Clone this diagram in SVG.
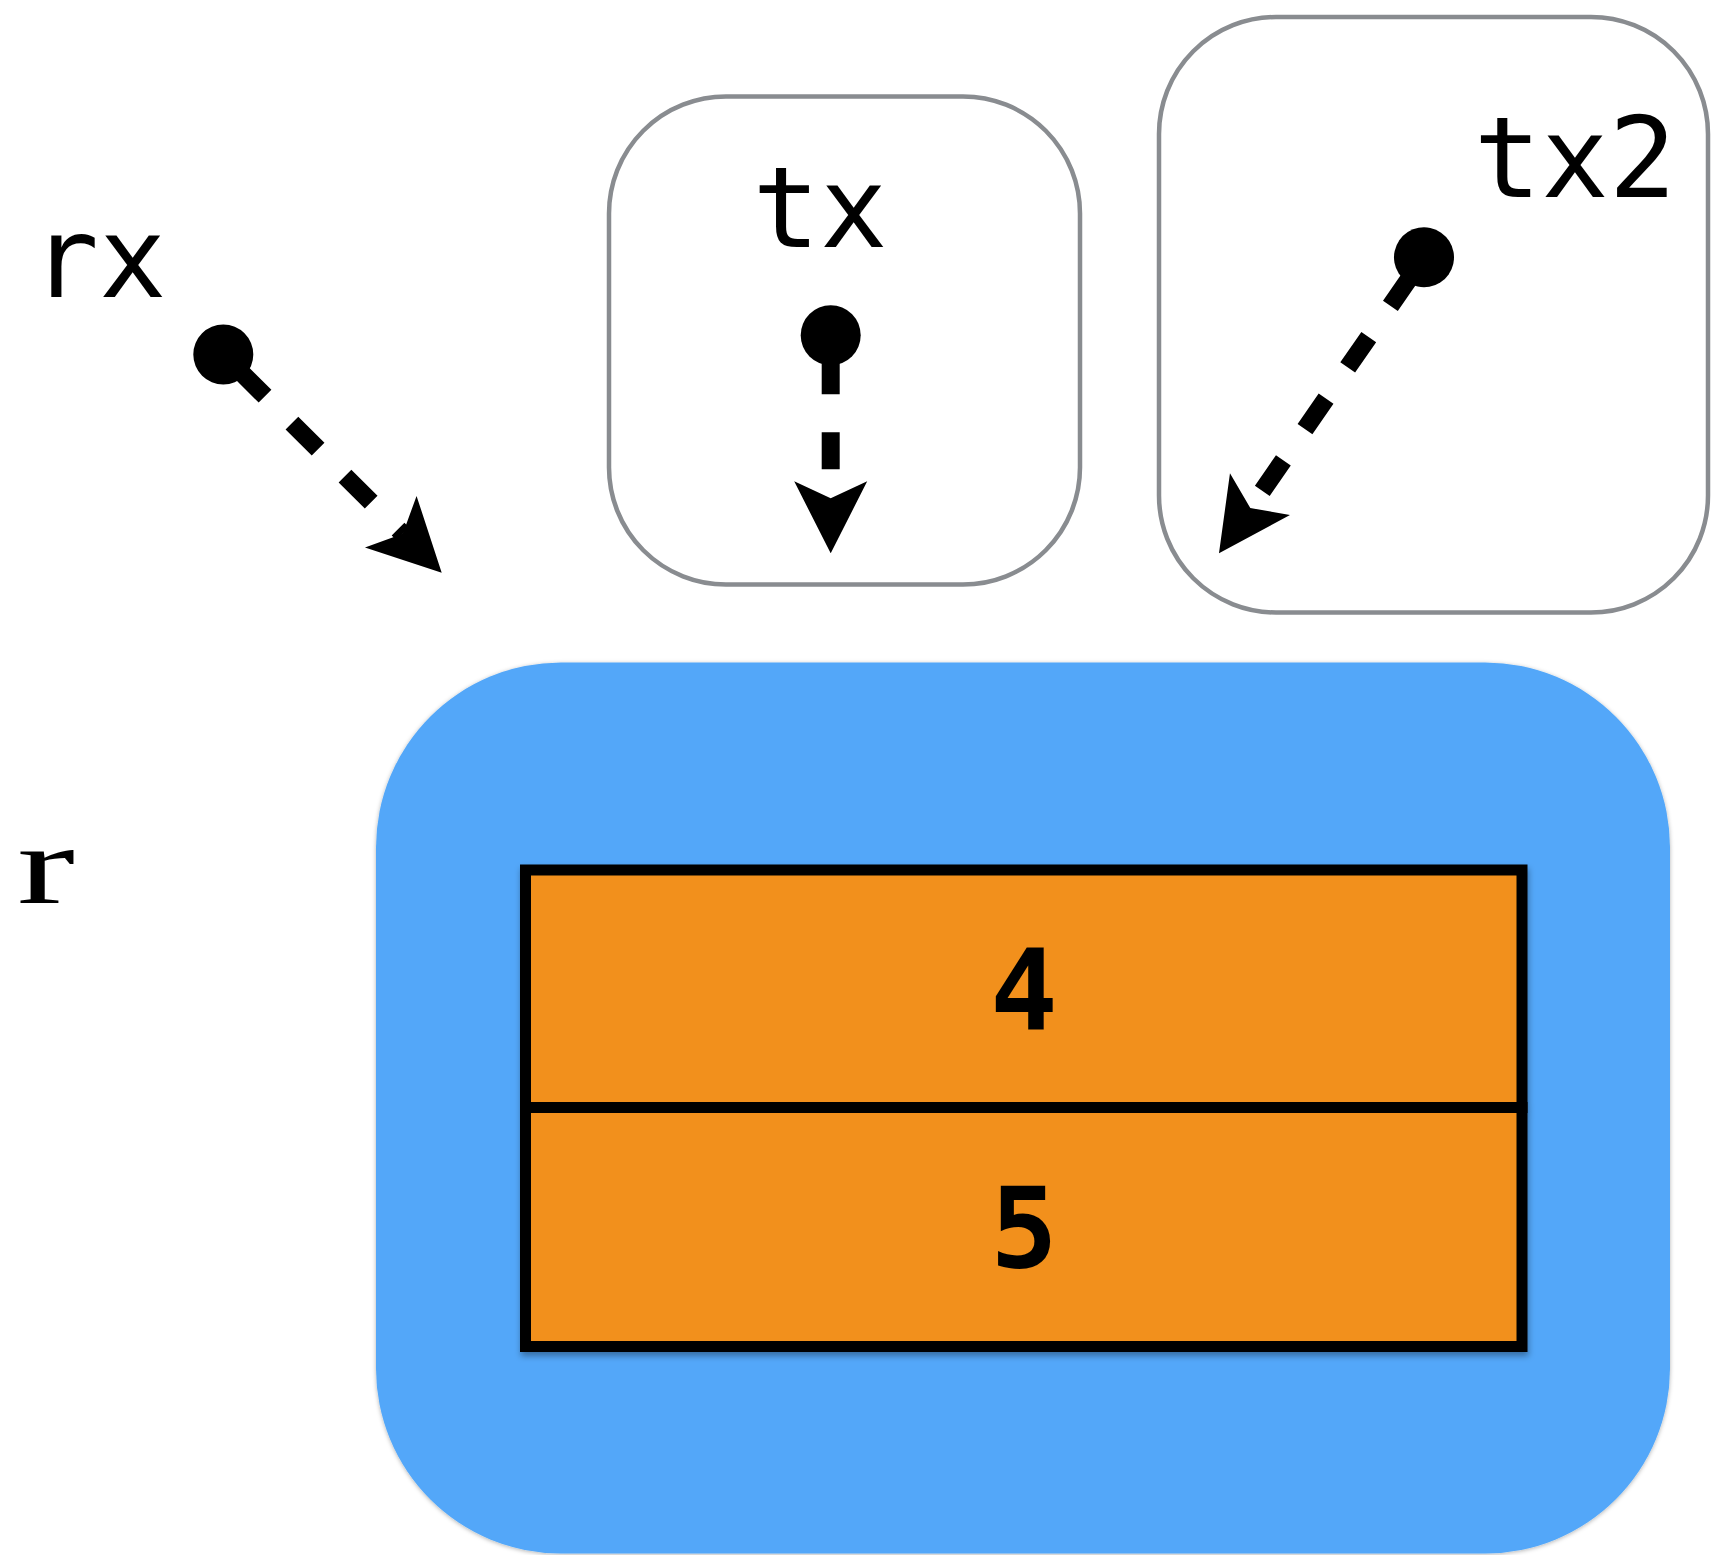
<svg xmlns="http://www.w3.org/2000/svg" width="1736" height="1555" viewBox="0 0 1736 1555">
  <style>
    .lbl { font-family: "DejaVu Sans Mono", monospace; font-size: 112px; fill: #000; }
    .rlbl { font-family: "Liberation Serif", serif; font-size: 112px; fill: #000; }
    .val { font-family: "DejaVu Sans Mono", monospace; font-weight: bold; font-size: 112px; fill: #000; text-anchor: middle; }
    .frame { fill: #fff; stroke: #898c90; stroke-width: 4.5; }
    .cell { fill: #f2901a; stroke: #000; stroke-width: 11; }
    .ptr { fill: none; stroke: #000; stroke-width: 18; stroke-dasharray: 37 38; stroke-dashoffset: 53; marker-start: url(#dot); marker-end: url(#arrow); }
  </style>
  <defs>
    <marker id="dot" markerUnits="userSpaceOnUse" viewBox="-32 -32 64 64" refX="0" refY="0" markerWidth="64" markerHeight="64" orient="auto">
      <circle cx="0" cy="0" r="30" fill="#000"/>
    </marker>
    <marker id="arrow" markerUnits="userSpaceOnUse" viewBox="-25 -40 80 80" refX="0" refY="0" markerWidth="80" markerHeight="80" orient="auto">
      <path d="M55,0 L-17,-36.5 L0,0 L-17,36.5 Z" fill="#000"/>
    </marker>
    <filter id="shadowBlue" x="-5%" y="-5%" width="110%" height="110%">
      <feDropShadow dx="0" dy="1" stdDeviation="2" flood-color="#000" flood-opacity="0.3"/>
    </filter>
    <filter id="shadowCell" x="-5%" y="-5%" width="110%" height="115%">
      <feDropShadow dx="1" dy="4" stdDeviation="3" flood-color="#000" flood-opacity="0.35"/>
    </filter>
  </defs>

  <g id="rx">
    <text class="lbl" x="99" y="297" text-anchor="middle">rx</text>
  </g>

  <g id="tx">
    <rect class="frame" x="609" y="96.5" width="471" height="488" rx="117" ry="117"/>
    <text class="lbl" x="820" y="247" text-anchor="middle">tx</text>
  </g>

  <g id="tx2">
    <rect class="frame" x="1159" y="17" width="549" height="595.5" rx="117" ry="117"/>
    <text class="lbl" x="1575" y="197" text-anchor="middle">tx2</text>
  </g>

  <g id="r">
    <text class="rlbl" x="17" y="903" textLength="58" lengthAdjust="spacingAndGlyphs">r</text>
    <rect x="376" y="662.5" width="1294" height="891" rx="185" ry="185" fill="#52a7f9" filter="url(#shadowBlue)"/>
  </g>

  <g id="r-cells" filter="url(#shadowCell)">
    <g id="r-cell-0">
      <rect class="cell" x="525.5" y="870" width="996.5" height="237.5"/>
      <text class="val" x="1024" y="1030">4</text>
    </g>
    <g id="r-cell-1">
      <rect class="cell" x="525.5" y="1107.5" width="996.5" height="239"/>
      <text class="val" x="1024" y="1267">5</text>
    </g>
  </g>

  <g id="connectors">
    <line class="ptr" x1="223.3" y1="354.5" x2="402.8" y2="533.8"/>
    <line class="ptr" x1="830.7" y1="335.3" x2="830.7" y2="498.3"/>
    <line class="ptr" x1="1424" y1="257.3" x2="1250.3" y2="508.1"/>
  </g>
</svg>
